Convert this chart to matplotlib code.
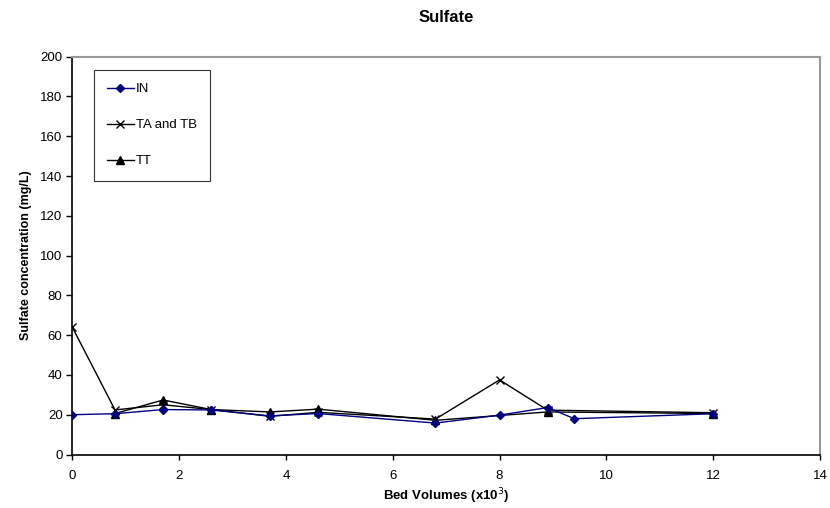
import matplotlib
matplotlib.use("Agg")
import matplotlib.pyplot as plt

plt.rcParams['font.family'] = ['Liberation Sans', 'DejaVu Sans']

# Bed volumes (x10^3) and sulfate concentrations (mg/L)
in_x = [0, 0.8, 1.7, 2.6, 3.7, 4.6, 6.8, 8.0, 8.9, 9.4, 12.0]
in_y = [20, 20.5, 22.6, 22.4, 19.4, 20.6, 15.8, 19.8, 23.6, 18.0, 20.5]

tatb_x = [0, 0.8, 1.7, 2.6, 3.7, 4.6, 6.8, 8.0, 8.9, 12.0]
tatb_y = [64, 22.4, 25.0, 22.6, 19.2, 21.2, 17.8, 37.5, 22.3, 21.0]

tt_x = [0.8, 1.7, 2.6, 3.7, 4.6, 6.8, 8.9, 12.0]
tt_y = [20.6, 27.4, 22.6, 21.4, 22.8, 17.2, 21.4, 20.6]

x_ticks = [0, 2, 4, 6, 8, 10, 12, 14]
y_ticks = [0, 20, 40, 60, 80, 100, 120, 140, 160, 180, 200]

W, H = 830, 508
left, right, top, bottom = 72.3, 820, 56.7, 454.5

fig = plt.figure(figsize=(W / 100, H / 100), dpi=100)
ax = fig.add_axes([left / W, 1 - bottom / H, (right - left) / W, (bottom - top) / H])

ax.plot(in_x, in_y, color='#000080', lw=1.0, marker='D', ms=4.5,
        mfc='#000080', mec='#000080', label='IN', zorder=3)
ax.plot(tatb_x, tatb_y, color='black', lw=1.0, marker='x', ms=5.5, mew=1.0,
        label='TA and TB', zorder=2)
ax.plot(tt_x, tt_y, color='black', lw=1.0, marker='^', ms=6,
        mfc='black', mec='black', label='TT', zorder=2)

ax.set_xlim(0, 14)
ax.set_ylim(0, 200)
ax.set_xticks(x_ticks)
ax.set_yticks(y_ticks)
ax.tick_params(axis='y', direction='out', length=4, width=1, labelsize=9.5, pad=3)
ax.tick_params(axis='x', direction='out', length=3.5, width=1, labelsize=9.5, pad=8)

for side in ('top', 'right'):
    ax.spines[side].set_color('#999999')
    ax.spines[side].set_linewidth(1.5)
for side in ('left', 'bottom'):
    ax.spines[side].set_color('black')
    ax.spines[side].set_linewidth(1.2)

ax.set_xlabel('Bed Volumes (x10$^3$)', fontsize=9.5, fontweight='bold', labelpad=3)
ax.set_ylabel('Sulfate concentration (mg/L)', fontsize=9, fontweight='bold', labelpad=6)
fig.text((left + right) / 2 / W, 1 - 17 / H, 'Sulfate', ha='center', va='center',
         fontsize=12, fontweight='bold')

leg = ax.legend(loc='upper left',
                bbox_to_anchor=((94 - left) / (right - left), (bottom - 70) / (bottom - top)),
                frameon=True, fancybox=False, edgecolor='black', fontsize=9.5,
                labelspacing=1.8, handlelength=2.0, handletextpad=0.2,
                borderpad=1.0, borderaxespad=0)
leg.get_frame().set_linewidth(0.8)

fig.savefig('out.png', dpi=100, facecolor='white')
